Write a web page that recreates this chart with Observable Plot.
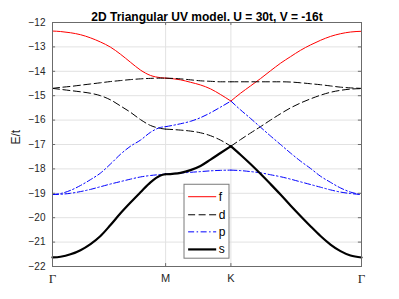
<!DOCTYPE html>
<html><head><meta charset="utf-8">
<script src="https://cdn.jsdelivr.net/npm/d3@7"></script>
<script src="https://cdn.jsdelivr.net/npm/@observablehq/plot@0.6"></script>
<style>body{margin:0;background:#fff;} #chart{width:399px;height:299px;}</style>
</head><body><div id="chart"></div>
<script>
// path coordinate along Γ–M–K–Γ
const kPath = [0, 0.257, 0.577, 0.898, 1.219, 1.540, 1.860, 2.181, 2.502, 2.823, 3.143, 3.464, 3.628,
  4.106, 4.426, 4.747, 5.068, 5.388, 5.722,
  6.030, 6.351, 6.671, 6.992, 7.313, 7.634, 7.954, 8.275, 8.596, 8.917, 9.237, 9.558, 9.911];

const fBand = [-12.35, -12.37, -12.42, -12.5, -12.63, -12.8, -13.01, -13.3, -13.63, -13.95, -14.17, -14.26, -14.28,
  -14.35, -14.45, -14.56, -14.72, -14.95, -15.22,
  -14.9, -14.6, -14.3, -13.98, -13.67, -13.4, -13.14, -12.92, -12.73, -12.57, -12.46, -12.39, -12.36];

const dUpper = [-14.7, -14.66, -14.62, -14.57, -14.52, -14.47, -14.42, -14.38, -14.34, -14.31, -14.29, -14.28, -14.28,
  -14.31, -14.35, -14.39, -14.41, -14.43, -14.43,
  -14.43, -14.43, -14.43, -14.43, -14.43, -14.44, -14.47, -14.51, -14.55, -14.6, -14.65, -14.68, -14.7];

const dLower = [-14.7, -14.74, -14.79, -14.84, -14.9, -15.0, -15.17, -15.42, -15.68, -15.98, -16.22, -16.34, -16.37,
  -16.41, -16.45, -16.52, -16.64, -16.82, -17.07,
  -16.8, -16.53, -16.27, -16.0, -15.74, -15.5, -15.3, -15.13, -14.98, -14.86, -14.78, -14.73, -14.71];

const pUpper = [-19.05, -19.01, -18.88, -18.68, -18.44, -18.17, -17.8, -17.4, -17.07, -16.82, -16.5, -16.3, -16.27,
  -16.15, -16.05, -15.9, -15.7, -15.47, -15.22,
  -15.58, -15.93, -16.29, -16.65, -17.0, -17.35, -17.68, -17.98, -18.3, -18.55, -18.78, -18.95, -19.05];

const pLower = [-19.05, -19.04, -19.0, -18.93, -18.84, -18.73, -18.62, -18.52, -18.42, -18.33, -18.27, -18.23, -18.21,
  -18.17, -18.14, -18.11, -18.08, -18.06, -18.05,
  -18.07, -18.11, -18.16, -18.24, -18.32, -18.42, -18.53, -18.64, -18.75, -18.86, -18.95, -19.01, -19.05];

const sBand = [-21.63, -21.6, -21.5, -21.33, -21.08, -20.75, -20.3, -19.82, -19.38, -18.96, -18.55, -18.27, -18.22,
  -18.16, -18.05, -17.88, -17.62, -17.35, -17.07,
  -17.42, -17.8, -18.2, -18.62, -19.05, -19.5, -19.93, -20.35, -20.75, -21.1, -21.37, -21.55, -21.63];

const kTicks = [0, 3.628, 5.722, 9.911];
const kLabels = ["Γ", "M", "K", "Γ"];
const yTicks = [-22, -21, -20, -19, -18, -17, -16, -15, -14, -13, -12];
const legendLabels = ["f", "d", "p", "s"];
const titleText = "2D Triangular UV model. U = 30t, V = -16t";
const yLabel = "E/t";

// styles
const styles = {
  f: {stroke: "#ff0000", strokeWidth: 1},
  d: {stroke: "#000000", strokeWidth: 1, strokeDasharray: "7,3.5"},
  p: {stroke: "#0000ff", strokeWidth: 1, strokeDasharray: "6,2.5,1.5,2.5"},
  s: {stroke: "#000000", strokeWidth: 2.2}
};
// legend placement in data units
const legendBox = {x1: 4.234, x2: 5.677, y1: -18.65, y2: -21.68};
const legendRowE = [-19.14, -19.88, -20.58, -21.30];
const legendLineK = [4.35, 5.25];
const legendTextK = 5.33;

function toRows(values, key) {
  const rows = [];
  for (let s = 0; s < kTicks.length - 1; s++) {
    kPath.forEach((k, i) => {
      if (k >= kTicks[s] - 1e-6 && k <= kTicks[s + 1] + 1e-6) rows.push({k, E: values[i], key: key + s});
    });
  }
  return rows;
}

const fRows = toRows(fBand, "f");
const dRows = toRows(dUpper, "d1").concat(toRows(dLower, "d2"));
const pRows = toRows(pUpper, "p1").concat(toRows(pLower, "p2"));
const sRows = toRows(sBand, "s");
const bandRows = {f: fRows, d: dRows, p: pRows, s: sRows};

const xMax = kTicks[kTicks.length - 1];
const gridColor = "#e2e2e2";
const axisColor = "#6b6b6b";
const textColor = "#262626";

const marks = [
  Plot.gridY(yTicks, {stroke: gridColor, strokeOpacity: 1}),
  Plot.gridX(kTicks.slice(1, -1), {stroke: gridColor, strokeOpacity: 1}),
  ...legendLabels.map(b => Plot.line(bandRows[b], {x: "k", y: "E", z: "key", curve: "monotone-x", ...styles[b]})),
  // legend
  Plot.rect([legendBox], {x1: "x1", x2: "x2", y1: "y1", y2: "y2", fill: "white", stroke: "#7a7a7a", strokeWidth: 1}),
  ...legendLabels.map((b, i) => Plot.link([legendRowE[i]], {x1: legendLineK[0], x2: legendLineK[1], y1: d => d, y2: d => d, ...styles[b]})),
  Plot.text(legendLabels, {x: legendTextK, y: (d, i) => legendRowE[i], text: d => d, textAnchor: "start", fontSize: 12, fill: "#000"}),
  // frame and inward ticks
  Plot.frame({stroke: axisColor, strokeWidth: 1}),
  Plot.ruleY(yTicks, {y: d => d, x1: 0, x2: 0.1, stroke: axisColor}),
  Plot.ruleY(yTicks, {y: d => d, x1: xMax - 0.1, x2: xMax, stroke: axisColor}),
  Plot.ruleX(kTicks, {x: d => d, y1: -22, y2: -21.88, stroke: axisColor}),
  Plot.ruleX(kTicks, {x: d => d, y1: -12.12, y2: -12, stroke: axisColor}),
  // axes text
  Plot.axisY(yTicks, {tickSize: 0, tickPadding: 7, fontSize: 10, fill: textColor, label: null}),
  Plot.text(kTicks, {filter: (d, i) => kLabels[i] !== "Γ", x: d => d, text: (d, i) => kLabels[i], frameAnchor: "bottom", lineAnchor: "top", dy: 8, fontSize: 11, fill: textColor}),
  Plot.text(kTicks, {filter: (d, i) => kLabels[i] === "Γ", x: d => d, text: (d, i) => kLabels[i], frameAnchor: "bottom", lineAnchor: "top", dy: 7, fontSize: 13, fontFamily: "Liberation Serif, DejaVu Serif, serif", fill: textColor}),
  Plot.text([yLabel], {text: d => d, frameAnchor: "left", dx: -36, rotate: -90, fontSize: 12, fill: textColor}),
  Plot.text([titleText], {text: d => d, frameAnchor: "top", dy: -10.5, fontSize: 12, fontWeight: "bold", fill: "#000"})
];

const chart = Plot.plot({
  width: 399,
  height: 299,
  marginLeft: 52,
  marginRight: 38,
  marginTop: 22,
  marginBottom: 33,
  x: {domain: [0, xMax], axis: null},
  y: {domain: [-22, -12], axis: null},
  style: {fontFamily: "'Liberation Sans', Arial, sans-serif", fontSize: "10px", background: "white", color: textColor},
  marks
});
document.getElementById("chart").appendChild(chart);
</script>
</body></html>
